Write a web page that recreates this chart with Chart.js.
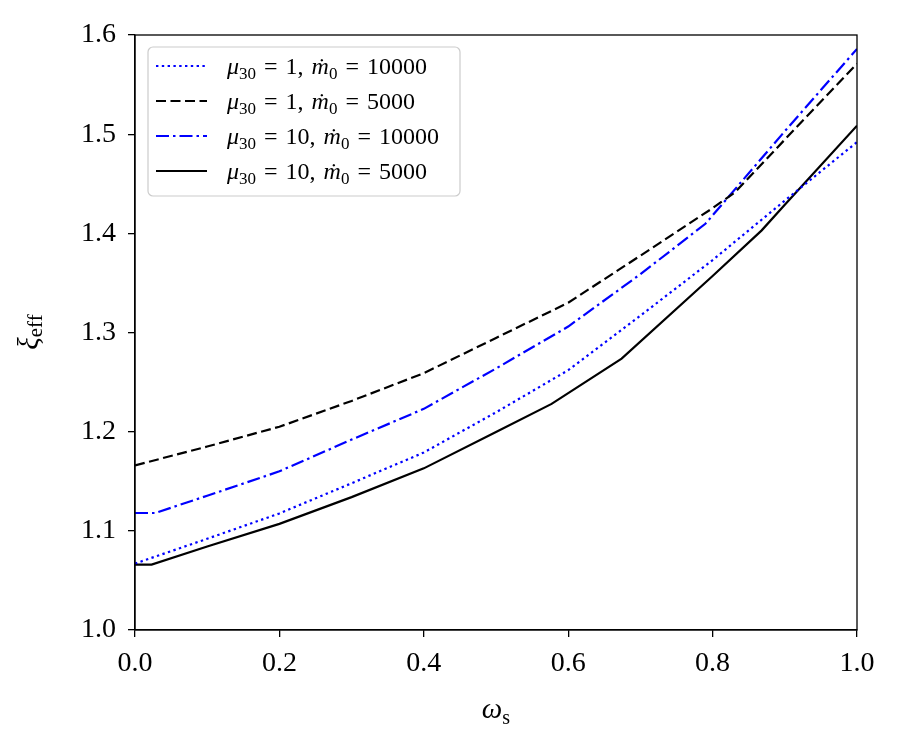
<!DOCTYPE html>
<html>
<head>
<meta charset="utf-8">
<script src="https://cdn.jsdelivr.net/npm/chart.js@4/dist/chart.umd.min.js"></script>
<style>
  html, body { margin: 0; padding: 0; background: #fff; }
  canvas { display: block; }
</style>
</head>
<body>
<canvas id="chart" width="900" height="750"></canvas>
<script>
// values
const xTicks = [0, 0.2, 0.4, 0.6, 0.8, 1.0];
const yTicks = [1.0, 1.1, 1.2, 1.3, 1.4, 1.5, 1.6];

const muValues = ['1', '1', '10', '10'];
const mdotValues = ['10000', '5000', '10000', '5000'];

// mu30 = 1, mdot0 = 10000 (dotted blue)
const omegaDotted = [0, 0.1, 0.2, 0.3, 0.4, 0.5, 0.6, 0.7, 0.8, 0.9, 1.0];
const xiDotted = [1.067, 1.092, 1.1175, 1.148, 1.179, 1.2195, 1.262, 1.317, 1.373, 1.433, 1.492];

// mu30 = 1, mdot0 = 5000 (dashed black)
const omegaDashed = [0, 0.1, 0.2, 0.3, 0.4, 0.5, 0.6, 0.7, 0.8, 0.831, 0.9, 1.0];
const xiDashed = [1.166, 1.185, 1.205, 1.231, 1.259, 1.2945, 1.330, 1.3775, 1.4254, 1.4414, 1.4945, 1.571];

// mu30 = 10, mdot0 = 10000 (dash-dot blue)
const omegaDashDot = [0, 0.028, 0.1, 0.2, 0.3, 0.4, 0.5, 0.6, 0.7, 0.79, 0.9, 1.0];
const xiDashDot = [1.118, 1.118, 1.1354, 1.160, 1.192, 1.223, 1.2637, 1.306, 1.3588, 1.4096, 1.503, 1.586];

// mu30 = 10, mdot0 = 5000 (solid black)
const omegaSolid = [0, 0.023, 0.1, 0.2, 0.3, 0.4, 0.5, 0.577, 0.674, 0.8, 0.868, 0.9, 1.0];
const xiSolid = [1.066, 1.066, 1.0842, 1.107, 1.134, 1.163, 1.1996, 1.228, 1.2736, 1.357, 1.403, 1.4288, 1.5085];

const serif = "'Liberation Serif', 'DejaVu Serif', serif";
const pts = (xs, ys) => xs.map((x, i) => ({ x: x, y: ys[i] }));
const labelOf = i => 'μ30 = ' + muValues[i] + ', ṁ0 = ' + mdotValues[i];

function series(i, xs, ys, color, dash) {
  return {
    label: labelOf(i),
    data: pts(xs, ys),
    borderColor: color,
    borderDash: dash,
    borderWidth: 2.2,
    pointRadius: 0,
    tension: 0,
    fill: false
  };
}

// draws frame, legend with math-style labels, axis titles
const decorations = {
  id: 'decorations',
  afterDraw(chart) {
    const ctx = chart.ctx;
    const a = chart.chartArea;
    ctx.save();

    // full frame round the axes
    ctx.strokeStyle = '#000';
    ctx.lineWidth = 1.3;
    ctx.strokeRect(a.left, a.top, a.right - a.left, a.bottom - a.top);

    // legend box
    const bx = 148, by = 47, bw = 312, bh = 149, r = 5;
    ctx.beginPath();
    ctx.moveTo(bx + r, by);
    ctx.arcTo(bx + bw, by, bx + bw, by + bh, r);
    ctx.arcTo(bx + bw, by + bh, bx, by + bh, r);
    ctx.arcTo(bx, by + bh, bx, by, r);
    ctx.arcTo(bx, by, bx + bw, by, r);
    ctx.closePath();
    ctx.fillStyle = 'rgba(255,255,255,0.85)';
    ctx.fill();
    ctx.strokeStyle = '#cccccc';
    ctx.lineWidth = 1.2;
    ctx.stroke();

    chart.data.datasets.forEach((ds, i) => {
      const yc = 66 + i * 35;
      ctx.strokeStyle = ds.borderColor;
      ctx.lineWidth = ds.borderWidth;
      ctx.setLineDash(ds.borderDash || []);
      ctx.beginPath();
      ctx.moveTo(156, yc);
      ctx.lineTo(207, yc);
      ctx.stroke();
      ctx.setLineDash([]);

      ctx.fillStyle = '#000';
      ctx.textBaseline = 'alphabetic';
      ctx.textAlign = 'left';
      const base = yc + 8;
      let x = 227;
      const put = (t, font, dy, gap) => {
        ctx.font = font;
        ctx.fillText(t, x, base + dy);
        x += ctx.measureText(t).width + (gap || 0);
      };
      const big = '24px ' + serif, it = 'italic 24px ' + serif, sub = '17px ' + serif;
      put('μ', it, 0, 0);
      put('30', sub, 5, 8);
      put('=', big, 0, 8);
      put(muValues[i] + ',', big, 0, 8);
      put('ṁ', it, 0, 0);
      put('0', sub, 5, 8);
      put('=', big, 0, 8);
      put(mdotValues[i], big, 0, 0);
    });

    // y axis title: xi_eff
    ctx.fillStyle = '#000';
    ctx.translate(38, 332);
    ctx.rotate(-Math.PI / 2);
    ctx.font = 'italic 29px ' + serif;
    const w1 = ctx.measureText('ξ').width;
    ctx.font = '21px ' + serif;
    const w2 = ctx.measureText('eff').width;
    let sx = -(w1 + w2) / 2;
    ctx.font = 'italic 29px ' + serif;
    ctx.fillText('ξ', sx, 0);
    ctx.font = '21px ' + serif;
    ctx.fillText('eff', sx + w1, 4);
    ctx.setTransform(1, 0, 0, 1, 0, 0);

    // x axis title: omega_s
    ctx.font = 'italic 29px ' + serif;
    const o1 = ctx.measureText('ω').width;
    ctx.font = '20px ' + serif;
    const o2 = ctx.measureText('s').width;
    const ox = (a.left + a.right) / 2 - (o1 + o2) / 2;
    ctx.font = 'italic 29px ' + serif;
    ctx.fillText('ω', ox, 718);
    ctx.font = '20px ' + serif;
    ctx.fillText('s', ox + o1, 724);

    ctx.restore();
  }
};

new Chart(document.getElementById('chart'), {
  type: 'line',
  data: {
    datasets: [
      series(0, omegaDotted, xiDotted, '#0000ff', [2.4, 3.4]),
      series(1, omegaDashed, xiDashed, '#000000', [10, 4.5]),
      series(2, omegaDashDot, xiDashDot, '#0000ff', [13, 4, 2.5, 4]),
      series(3, omegaSolid, xiSolid, '#000000', [])
    ]
  },
  options: {
    responsive: false,
    animation: false,
    devicePixelRatio: 1,
    layout: { padding: { left: 0, top: 35, right: 43, bottom: 0 } },
    plugins: {
      legend: { display: false },
      tooltip: { enabled: false }
    },
    scales: {
      x: {
        type: 'linear',
        min: 0,
        max: 1,
        afterBuildTicks: s => { s.ticks = xTicks.map(v => ({ value: v })); },
        afterFit: s => { s.height = 120; },
        ticks: {
          callback: v => v.toFixed(1),
          color: '#000',
          padding: 10,
          maxRotation: 0,
          font: { family: serif, size: 28 }
        },
        grid: { drawOnChartArea: false, drawTicks: true, tickLength: 7, color: '#000', lineWidth: 1.3 },
        border: { display: true, color: '#000', width: 1.3 }
      },
      y: {
        type: 'linear',
        min: 1.0,
        max: 1.6,
        afterBuildTicks: s => { s.ticks = yTicks.map(v => ({ value: v })); },
        afterFit: s => { s.width = 135; },
        ticks: {
          callback: v => v.toFixed(1),
          color: '#000',
          padding: 12,
          font: { family: serif, size: 28 }
        },
        grid: { drawOnChartArea: false, drawTicks: true, tickLength: 7, color: '#000', lineWidth: 1.3 },
        border: { display: true, color: '#000', width: 1.3 }
      }
    }
  },
  plugins: [decorations]
});
</script>
</body>
</html>
